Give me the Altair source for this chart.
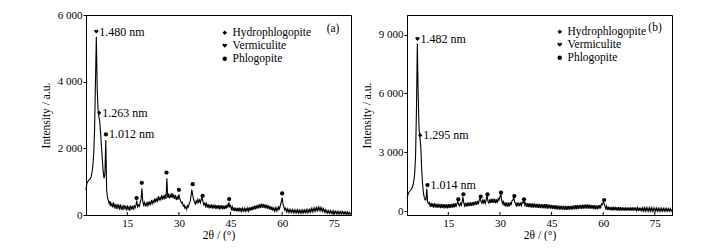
import altair as alt
import pandas as pd

STEP = 0.25
START = 3.0
left_int = [
    750, 950, 1000, 1040, 1060, 1090, 1150, 1280, 1480, 1850, 2600, 4000, 5350, 3800, 3150, 2950, 2800, 2450, 2050, 1650,
    1300, 1100, 1250, 2250, 750, 520, 430, 330, 420, 260, 360, 230, 380, 240, 300, 180, 330, 210, 290, 160,
    320, 190, 260, 150, 300, 200, 250, 140, 290, 170, 240, 130, 280, 190, 250, 160, 300, 210, 280, 430,
    240, 300, 260, 380, 460, 800, 400, 300, 380, 260, 350, 280, 400, 300, 380, 320, 450, 340, 430, 370,
    500, 380, 480, 420, 560, 430, 520, 460, 600, 460, 560, 500, 620, 480, 1100, 520, 640, 500, 600, 520,
    660, 510, 620, 480, 600, 450, 540, 460, 620, 480, 420, 360, 380, 270, 300, 200, 250, 170, 280, 240,
    340, 400, 560, 760, 600, 480, 400, 330, 420, 360, 470, 380, 450, 370, 480, 520, 400, 280, 380, 260,
    340, 220, 330, 200, 310, 210, 320, 190, 300, 200, 310, 180, 290, 190, 300, 170, 290, 180, 300, 170,
    280, 180, 290, 190, 300, 220, 380, 250, 290, 170, 250, 120, 230, 120, 220, 110, 210, 110, 220, 100,
    210, 110, 200, 100, 200, 110, 210, 110, 210, 120, 230, 130, 240, 140, 260, 160, 280, 170, 290, 190,
    310, 200, 330, 210, 340, 220, 330, 210, 320, 200, 310, 190, 290, 170, 270, 150, 250, 130, 230, 120,
    210, 120, 220, 140, 240, 180, 300, 400, 520, 320, 240, 150, 200, 100, 180, 90, 170, 80, 160, 80,
    160, 70, 150, 70, 150, 70, 150, 60, 140, 60, 140, 60, 150, 70, 150, 70, 160, 70, 160, 80,
    170, 90, 190, 100, 200, 110, 210, 120, 220, 130, 230, 140, 230, 130, 210, 110, 190, 90, 160, 70,
    140, 60, 130, 50, 130, 50, 120, 40, 120, 40, 110, 40, 110, 30, 100, 30, 100, 30, 100, 30,
    90, 30, 90, 20, 90, 20, 80, 20, 70,
]
right_int = [
    650, 820, 940, 1000, 1050, 1100, 1200, 1330, 1550, 1950, 2900, 5200, 8550, 5900, 4200, 3750, 3300, 2200, 1450, 950,
    700, 580, 560, 1150, 450, 380, 440, 230, 420, 200, 390, 170, 400, 190, 370, 160, 380, 170, 360, 150,
    370, 160, 350, 140, 360, 150, 340, 140, 350, 150, 360, 160, 370, 170, 380, 190, 400, 200, 380, 500,
    330, 260, 410, 300, 450, 720, 420, 260, 420, 230, 430, 240, 440, 250, 450, 260, 460, 280, 480, 300,
    500, 320, 520, 350, 560, 640, 480, 400, 600, 380, 580, 400, 560, 800, 520, 380, 600, 400, 620, 420,
    640, 420, 620, 400, 600, 420, 640, 560, 720, 880, 560, 380, 480, 260, 450, 230, 440, 220, 430, 240,
    450, 300, 520, 560, 700, 500, 380, 260, 440, 240, 430, 250, 440, 280, 460, 420, 530, 300, 420, 220,
    410, 200, 400, 190, 390, 180, 390, 180, 380, 170, 380, 160, 370, 160, 370, 150, 360, 150, 360, 140,
    350, 140, 350, 130, 340, 130, 330, 120, 320, 110, 310, 100, 300, 90, 290, 80, 280, 80, 280, 70,
    270, 70, 270, 60, 260, 60, 260, 60, 270, 70, 270, 70, 280, 80, 290, 90, 300, 90, 310, 100,
    310, 110, 320, 110, 330, 120, 330, 130, 340, 130, 340, 120, 330, 120, 320, 110, 310, 100, 300, 90,
    290, 90, 290, 110, 310, 140, 360, 320, 460, 400, 260, 110, 250, 60, 230, 50, 220, 40, 220, 40,
    210, 30, 210, 30, 200, 30, 200, 20, 200, 20, 190, 20, 190, 20, 190, 20, 190, 20, 190, 20,
    190, 20, 190, 20, 190, 20, 190, 20, 180, 10, 180, 10, 180, 10, 170, 10, 170, 10, 170, 10,
    160, 0, 160, 0, 160, 0, 150, 0, 150, 0, 150, 0, 140, 0, 140, 0, 140, 0, 130, 0,
    130, 0, 130, 0, 120, 0, 120, 0, 80,
]
left_tt = [START + STEP * i for i in range(len(left_int))]
right_tt = [START + STEP * i for i in range(len(right_int))]

left_mark_tt = [6.0, 6.84, 8.78, 17.7, 19.2, 26.4, 30.0, 34.0, 36.9, 44.6, 60.0]
left_mark_int = [5500, 3066, 2418, 507, 965, 1274, 756, 925, 577, 478, 647]
left_mark_phase = ["Vermiculite", "Hydrophlogopite", "Phlogopite", "Phlogopite", "Phlogopite", "Phlogopite",
                   "Phlogopite", "Phlogopite", "Phlogopite", "Phlogopite", "Phlogopite"]
left_mark_label = ["1.480 nm", "1.263 nm", "1.012 nm", "", "", "", "", "", "", "", ""]

right_mark_tt = [6.05, 6.84, 8.95, 17.9, 19.4, 24.4, 26.4, 30.3, 34.2, 37.0, 60.3]
right_mark_int = [8774, 3868, 1329, 598, 853, 736, 853, 940, 767, 598, 562]
right_mark_phase = ["Vermiculite", "Hydrophlogopite", "Phlogopite", "Phlogopite", "Phlogopite", "Phlogopite",
                    "Phlogopite", "Phlogopite", "Phlogopite", "Phlogopite", "Phlogopite"]
right_mark_label = ["1.482 nm", "1.295 nm", "1.014 nm", "", "", "", "", "", "", "", ""]

phases = ["Hydrophlogopite", "Vermiculite", "Phlogopite"]
x_ticks = [15, 30, 45, 60, 75]
left_y_ticks = [0, 2000, 4000, 6000]
right_y_ticks = [0, 3000, 6000, 9000]
panel_tags = ["(a)", "(b)"]

HEART = ("M0,0.9 L-0.85,0 C-1.2,-0.4 -1,-0.95 -0.5,-0.95 C-0.25,-0.95 -0.05,-0.8 0,-0.55 "
         "C0.05,-0.8 0.25,-0.95 0.5,-0.95 C1,-0.95 1.2,-0.4 0.85,0 Z")

FONT = "Liberation Serif, Times New Roman, Times, serif"
W, H = 265, 200
LABEL_EXPR = "replace(format(datum.value, ','), ',', ' ')"


def panel(tt, inten, mtt, mint, mphase, mlabel, ydomain, yticks, tag, legx, legy, tagx, tagy):
    curve = pd.DataFrame({"tt": tt, "I": inten})
    marks = pd.DataFrame({"tt": mtt, "I": mint, "phase": mphase, "label": mlabel})
    ticks = pd.DataFrame({"t": x_ticks})

    xs = alt.Scale(domain=[3, 80], nice=False, zero=False)
    ys = alt.Scale(domain=ydomain, nice=False, zero=False)
    xax = alt.Axis(values=x_ticks, ticks=False, labelPadding=2, title="2θ / (°)", titlePadding=1)
    yax = alt.Axis(values=yticks, tickSize=3, labelPadding=1, labelExpr=LABEL_EXPR,
                   title="Intensity / a.u.", titlePadding=6)

    line = alt.Chart(curve).mark_line(color="black", strokeWidth=1.1).encode(
        x=alt.X("tt:Q", scale=xs, axis=xax),
        y=alt.Y("I:Q", scale=ys, axis=yax),
    )
    pts = alt.Chart(marks).mark_point(filled=True, color="black", opacity=1, size=18).encode(
        x=alt.X("tt:Q", scale=xs),
        y=alt.Y("I:Q", scale=ys),
        shape=alt.Shape("phase:N",
                        scale=alt.Scale(domain=phases, range=["diamond", HEART, "circle"]),
                        legend=alt.Legend(title=None, orient="none", legendX=legx, legendY=legy,
                                          labelFont=FONT, labelFontSize=11.5, labelColor="black",
                                          symbolSize=20, symbolFillColor="black", symbolStrokeColor="black",
                                          symbolStrokeWidth=0, rowPadding=0, labelOffset=2, padding=0)),
    )
    lbl = alt.Chart(marks).mark_text(align="left", baseline="middle", dx=3, font=FONT, fontSize=12,
                                     color="black").encode(
        x=alt.X("tt:Q", scale=xs),
        y=alt.Y("I:Q", scale=ys),
        text="label:N",
    )
    tk = alt.Chart(ticks).mark_rule(color="black", strokeWidth=1).encode(
        x=alt.X("t:Q", scale=xs),
        y=alt.value(H),
        y2=alt.value(H - 3),
    )
    tg = alt.Chart(pd.DataFrame({"tag": [tag]})).mark_text(font=FONT, fontSize=11.5, color="black",
                                                           baseline="middle").encode(
        x=alt.value(tagx), y=alt.value(tagy), text="tag:N")
    return alt.layer(line, tk, pts, lbl, tg).properties(width=W, height=H)


left = panel(left_tt, left_int, left_mark_tt, left_mark_int, left_mark_phase, left_mark_label,
             [0, 6000], left_y_ticks, panel_tags[0], 133, 12, 247, 14)
right = panel(right_tt, right_int, right_mark_tt, right_mark_int, right_mark_phase, right_mark_label,
              [-200, 10000], right_y_ticks, panel_tags[1], 147, 11, 248, 13)

chart = alt.hconcat(left, right, spacing=6).resolve_scale(
    x="independent", y="independent", shape="independent"
).resolve_legend(shape="independent").properties(
    padding={"left": 39, "top": 8, "right": 0, "bottom": 0}, background="white"
).configure_view(stroke="black", strokeWidth=1).configure_axis(
    grid=False, labelFont=FONT, titleFont=FONT, labelFontSize=11, titleFontSize=11.5,
    titleFontWeight="normal", labelColor="black", titleColor="black",
    domainColor="black", tickColor="black", domainWidth=1
)

chart.save("out.html", embed_options={"renderer": "svg", "actions": False})
